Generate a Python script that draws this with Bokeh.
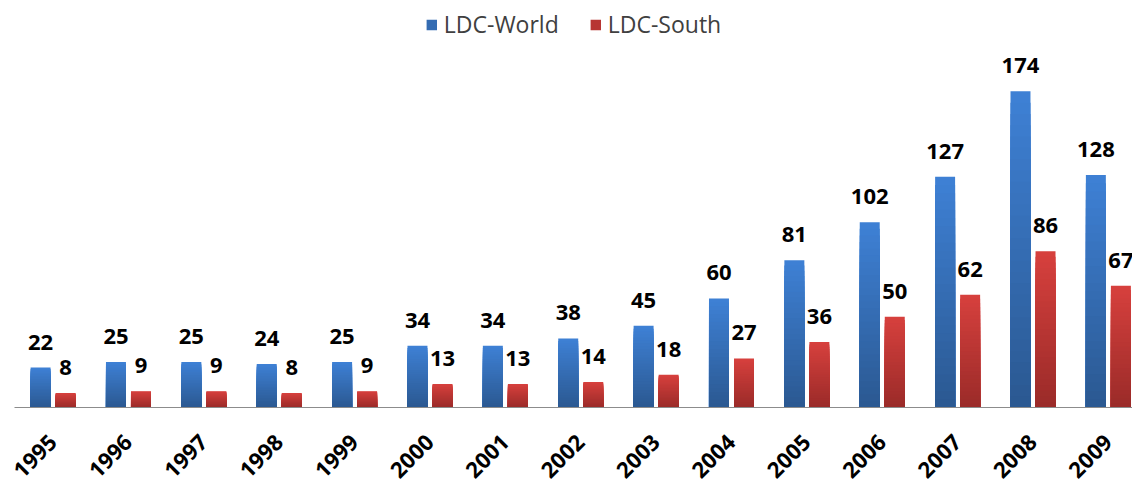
import math
from bokeh.plotting import figure
from bokeh.models import (ColumnDataSource, Range1d, FixedTicker, LabelSet,
                          Legend, LegendItem)
from bokeh.core.properties import value
from bokeh.transform import dodge
from bokeh.embed import file_html
from bokeh.resources import INLINE

# Yearly counts
years = [1995, 1996, 1997, 1998, 1999, 2000, 2001, 2002, 2003, 2004,
         2005, 2006, 2007, 2008, 2009]
ldc_world = [22, 25, 25, 24, 25, 34, 34, 38, 45, 60, 81, 102, 127, 174, 128]
ldc_south = [8, 9, 9, 8, 9, 13, 13, 14, 18, 27, 36, 50, 62, 86, 67]

FONT = "Open Sans"
BAR_W = 0.265
OFFSET = 0.166
N_SLICES = 28


def mix(c1, c2, t):
    r = [round(a + (b - a) * t) for a, b in zip(c1, c2)]
    return "#%02x%02x%02x" % tuple(r)


def gradient_source(values, top_rgb, bottom_rgb):
    """Shade each bar light at the top and dark at the base.

    Every bar is painted as nested rectangles from the base, tallest first,
    so each shorter one overdraws the lower part without leaving seams.
    """
    xs, tops, colors = [], [], []
    for k in reversed(range(N_SLICES)):
        for yr, v in zip(years, values):
            xs.append(yr)
            tops.append(v * (k + 1) / N_SLICES)
            colors.append(mix(bottom_rgb, top_rgb, k / (N_SLICES - 1)))
    return ColumnDataSource(dict(year=xs, top=tops, color=colors))


p = figure(width=1132, height=487, output_backend="svg", toolbar_location=None,
           x_range=Range1d(1994.488, 2009.32), y_range=Range1d(0, 224),
           y_axis_location=None, min_border_left=14, min_border_right=0,
           min_border_top=0, min_border_bottom=80)
p.outline_line_color = None
p.xgrid.visible = False
p.ygrid.visible = False
p.background_fill_color = "white"
p.border_fill_color = "white"

blue_src = gradient_source(ldc_world, (0x3e, 0x80, 0xd4), (0x2b, 0x59, 0x92))
red_src = gradient_source(ldc_south, (0xd6, 0x40, 0x3d), (0x9b, 0x2b, 0x29))

r_world = p.vbar(x=dodge("year", -OFFSET), width=BAR_W, bottom=0, top="top",
                 fill_color="color", line_color=None, source=blue_src)
r_south = p.vbar(x=dodge("year", OFFSET), width=BAR_W, bottom=0, top="top",
                 fill_color="color", line_color=None, source=red_src)

# Value labels above each bar
lab_src = ColumnDataSource(dict(
    year=years, world=ldc_world, south=ldc_south,
    world_txt=[str(v) for v in ldc_world], south_txt=[str(v) for v in ldc_south]))
for col, txt, off in (("world", "world_txt", -OFFSET), ("south", "south_txt", OFFSET)):
    p.add_layout(LabelSet(x=dodge("year", off), y=col, text=txt, source=lab_src,
                          text_align="center", text_baseline="alphabetic",
                          y_offset=18, text_font=value(FONT),
                          text_font_style="bold", text_font_size="22px",
                          text_color="black"))

# Year axis along the bottom
ax = p.xaxis[0]
ax.ticker = FixedTicker(ticks=years)
ax.axis_line_color = "#8c8c8c"
ax.axis_line_width = 1
ax.major_tick_line_color = None
ax.minor_tick_line_color = None
ax.major_label_orientation = math.pi / 4
ax.major_label_standoff = 25
ax.major_label_text_font = FONT
ax.major_label_text_font_style = "bold"
ax.major_label_text_font_size = "22px"
ax.major_label_text_color = "black"

legend = Legend(items=[
    LegendItem(label="LDC-World", renderers=[r_world], index=N_SLICES * 15 // 2),
    LegendItem(label="LDC-South", renderers=[r_south], index=N_SLICES * 15 // 2),
], location="top_center", orientation="horizontal",
    label_text_font=FONT, label_text_font_size="23px", label_text_color="#404040",
    glyph_width=13, glyph_height=13, spacing=30, label_standoff=6,
    border_line_color=None, background_fill_alpha=0, padding=8, margin=8)
p.add_layout(legend)

open("out.html", "w").write(file_html(p, INLINE))
